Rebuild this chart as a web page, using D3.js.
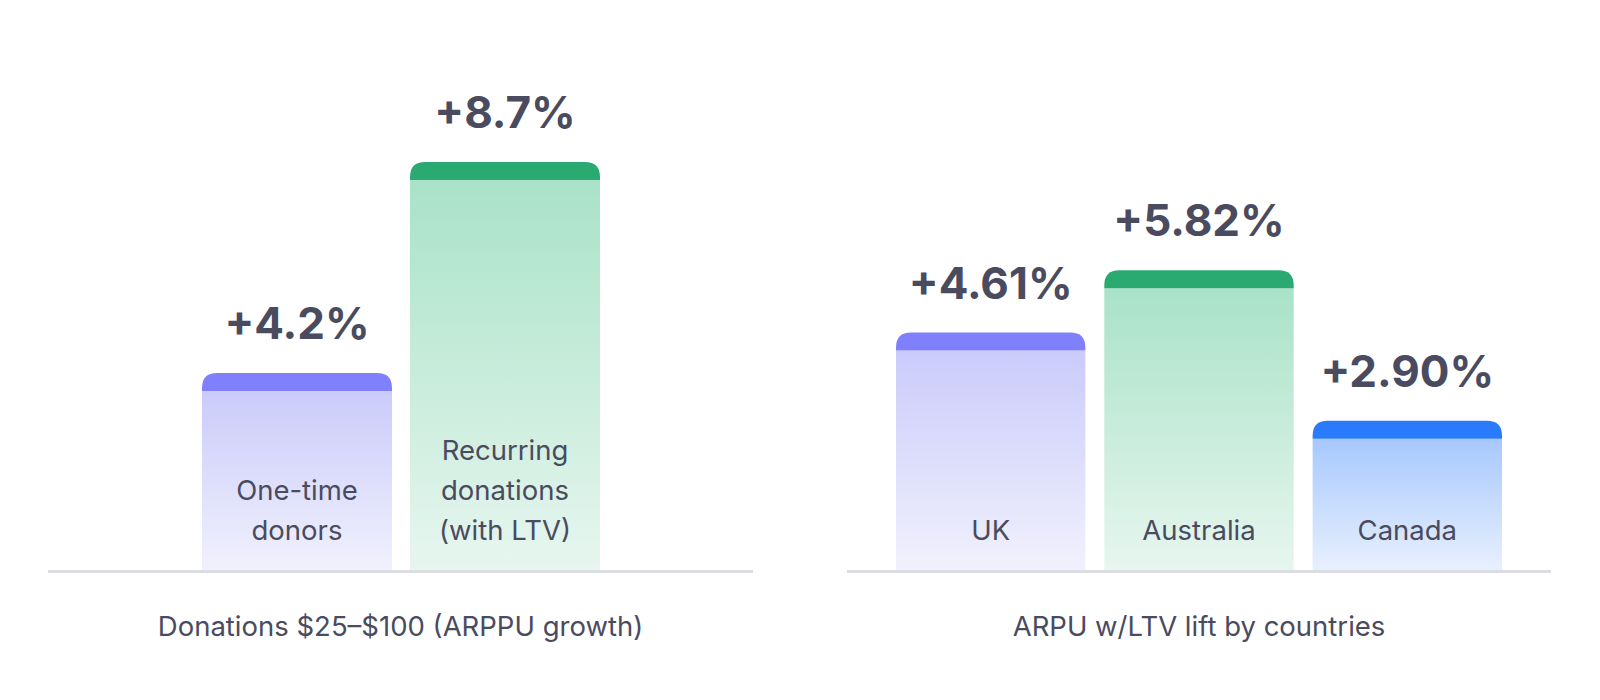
<!DOCTYPE html>
<html>
<head>
<meta charset="utf-8">
<script src="https://cdn.jsdelivr.net/npm/d3@7"></script>
<style>
  html, body { margin: 0; padding: 0; background: #fff; }
  svg { display: block; font-family: Inter, "Noto Sans", sans-serif; }
</style>
</head>
<body>
<svg id="chart" width="1600" height="700"></svg>
<script>
// left panel: donations
const donationCats = ['One-time donors', 'Recurring donations (with LTV)'];
const donationLabels = [['One-time', 'donors'], ['Recurring', 'donations', '(with LTV)']];
const donationValues = [4.2, 8.7];
const donationText = ['+4.2%', '+8.7%'];
const donationColors = ['purple', 'green'];

// right panel: countries
const countryCats = ['UK', 'Australia', 'Canada'];
const countryValues = [4.61, 5.82, 2.90];
const countryText = ['+4.61%', '+5.82%', '+2.90%'];
const countryColors = ['purple', 'green', 'blue'];

const captions = ['Donations $25\u2013$100 (ARPPU growth)', 'ARPU w/LTV lift by countries'];

const palette = {
  purple: { cap: '#8080fd', top: '#cacbfa', bottom: '#f1f1fd' },
  green:  { cap: '#2aa971', top: '#a9e2c8', bottom: '#e7f6ef' },
  blue:   { cap: '#2a7bfb', top: '#a7c8fd', bottom: '#e8f0fe' }
};

const textColor = '#4a4b5f';
const baseY = 570;
const capH = 18, radius = 15;

const svg = d3.select('#chart');
const defs = svg.append('defs');
Object.entries(palette).forEach(([k, c]) => {
  const g = defs.append('linearGradient')
    .attr('id', 'grad-' + k)
    .attr('x1', 0).attr('y1', 0).attr('x2', 0).attr('y2', 1);
  g.append('stop').attr('offset', '0%').attr('stop-color', c.top);
  g.append('stop').attr('offset', '100%').attr('stop-color', c.bottom);
});

function topRounded(x, y, w, h, r) {
  return `M${x},${y + h}V${y + r}Q${x},${y} ${x + r},${y}H${x + w - r}Q${x + w},${y} ${x + w},${y + r}V${y + h}Z`;
}

function drawPanel(opts) {
  const g = svg.append('g');

  const x = d3.scaleBand()
    .domain(opts.cats)
    .range(opts.barRange)
    .paddingInner(opts.gap);

  const y = d3.scaleLinear()
    .domain([0, 10])
    .range([baseY, baseY - opts.span]);

  const bars = g.selectAll('.bar')
    .data(opts.cats.map((c, i) => ({ cat: c, v: opts.values[i], txt: opts.text[i], col: opts.colors[i], lines: opts.lines[i] })))
    .enter().append('g').attr('class', 'bar');

  bars.append('rect')
    .attr('x', d => x(d.cat))
    .attr('y', d => y(d.v) + capH)
    .attr('width', x.bandwidth())
    .attr('height', d => baseY - y(d.v) - capH)
    .attr('fill', d => `url(#grad-${d.col})`);

  bars.append('path')
    .attr('d', d => topRounded(x(d.cat), y(d.v), x.bandwidth(), capH, radius))
    .attr('fill', d => palette[d.col].cap);

  bars.append('text')
    .attr('x', d => x(d.cat) + x.bandwidth() / 2)
    .attr('y', d => y(d.v) - 34)
    .attr('text-anchor', 'middle')
    .attr('font-size', 44)
    .attr('font-weight', 700)
    .attr('fill', textColor)
    .text(d => d.txt);

  bars.each(function(d) {
    const n = d.lines.length;
    d3.select(this).selectAll('.cat')
      .data(d.lines)
      .enter().append('text')
      .attr('class', 'cat')
      .attr('x', x(d.cat) + x.bandwidth() / 2)
      .attr('y', (t, i) => 540 - (n - 1 - i) * 40)
      .attr('text-anchor', 'middle')
      .attr('font-size', 27.5)
      .attr('fill', textColor)
      .text(t => t);
  });

  g.append('line')
    .attr('x1', opts.lineRange[0]).attr('x2', opts.lineRange[1])
    .attr('y1', baseY + 1.5).attr('y2', baseY + 1.5)
    .attr('stroke', '#dcdde3')
    .attr('stroke-width', 3);

  g.append('text')
    .attr('x', (opts.lineRange[0] + opts.lineRange[1]) / 2)
    .attr('y', 636)
    .attr('text-anchor', 'middle')
    .attr('font-size', 27.5)
    .attr('fill', textColor)
    .text(opts.caption);
}

drawPanel({
  cats: donationCats, values: donationValues, text: donationText, colors: donationColors,
  lines: donationLabels, barRange: [202, 600], gap: 18 / 208, span: 469,
  lineRange: [48, 753], caption: captions[0]
});

drawPanel({
  cats: countryCats, values: countryValues, text: countryText, colors: countryColors,
  lines: countryCats.map(c => [c]), barRange: [896, 1502], gap: 19 / 209, span: 515,
  lineRange: [847, 1551], caption: captions[1]
});
</script>
</body>
</html>
